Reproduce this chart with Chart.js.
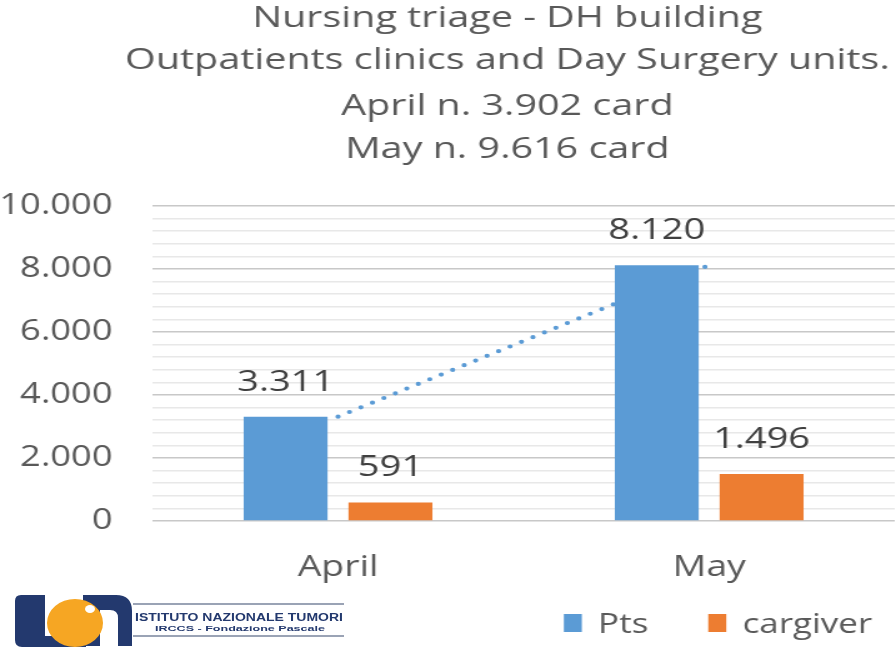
<!DOCTYPE html>
<html>
<head>
<meta charset="utf-8">
<script src="https://cdn.jsdelivr.net/npm/chart.js@4.4.1/dist/chart.umd.min.js"></script>
<style>
    html, body { margin: 0; padding: 0; background: #fff; }
    #wrap { position: relative; width: 896px; height: 651px; overflow: hidden; }
    /* the source picture is stretched sideways, so the canvas is too */
    #chart { display: block; width: 896px; height: 651px; }
    #logo { position: absolute; left: 0; top: 580px; }
</style>
</head>
<body>
<div id="wrap">
    <canvas id="chart" width="717" height="651" style="width:896px;height:651px"></canvas>
    <svg id="logo" width="360" height="71" viewBox="0 580 360 71">
        <path d="M15,640 L15,601 Q15,595 21,595 L45,595 L45,636 L86,636 L86,647 L22,647 Q15,647 15,640 Z" fill="#23396e"/>
        <path d="M83,646 L83,595 L116,595 Q132,595 132,611 L132,646 L118,646 L118,618 Q118,610 110,610 L100,610 L100,646 Z" fill="#23396e"/>
        <ellipse cx="75" cy="623" rx="28" ry="24" fill="#f6a623"/>
        <ellipse cx="90" cy="609" rx="5" ry="4" fill="#fff"/>
        <line x1="133" y1="604" x2="344" y2="604" stroke="#9aa3b5" stroke-width="2"/>
        <line x1="133" y1="636" x2="344" y2="636" stroke="#9aa3b5" stroke-width="2"/>
        <text x="135" y="621" textLength="208" lengthAdjust="spacingAndGlyphs" font-family="Liberation Sans" font-weight="bold" font-size="10" fill="#23396e">ISTITUTO NAZIONALE  TUMORI</text>
        <text x="155" y="631" textLength="170" lengthAdjust="spacingAndGlyphs" font-family="Liberation Sans" font-weight="bold" font-size="8" fill="#23396e">IRCCS - Fondazione Pascale</text>
    </svg>
</div>
<script>
// Chart data
const titleLines = ['Nursing triage - DH building', 'Outpatients clinics and Day Surgery units.', 'April n. 3.902 card', 'May n. 9.616 card'];
const months = ['April', 'May'];
const seriesNames = ['Pts', 'cargiver'];
const ptsValues = [3311, 8120];
const caregiverValues = [591, 1496];
const yTickLabels = [0, 2000, 4000, 6000, 8000, 10000];

const FONT = 'Open Sans';
const GREY = '#595959';

// Italian style thousands separator: 10000 -> 10.000
function fmt(v) {
    return String(v).replace(/\B(?=(\d{3})+(?!\d))/g, '.');
}

// draw a text a little wider than the font gives
function wideText(ctx, text, x, y, sx) {
    ctx.save();
    ctx.translate(x, y);
    ctx.scale(sx, 1);
    ctx.fillText(text, 0, 0);
    ctx.restore();
}

// Title, four centred lines
const titlePlugin = {
    id: 'titleLines',
    afterDraw(chart) {
        const ctx = chart.ctx;
        ctx.save();
        ctx.font = '29px "' + FONT + '"';
        ctx.fillStyle = GREY;
        ctx.textAlign = 'center';
        ctx.textBaseline = 'alphabetic';
        const baselines = [27, 69, 115, 158];
        titleLines.forEach((line, i) => wideText(ctx, line, 406, baselines[i], 1.09));
        ctx.restore();
    }
};

// Value labels above the bars
const valueLabels = {
    id: 'valueLabels',
    afterDatasetsDraw(chart) {
        const ctx = chart.ctx;
        ctx.save();
        ctx.font = '29px "' + FONT + '"';
        ctx.fillStyle = '#404040';
        ctx.textAlign = 'center';
        ctx.textBaseline = 'alphabetic';
        chart.data.datasets.forEach((ds, i) => {
            if (ds.type === 'line') return;
            chart.getDatasetMeta(i).data.forEach((bar, j) => {
                wideText(ctx, fmt(ds.data[j]), bar.x, bar.y - 26, 1.05);
            });
        });
        ctx.restore();
    }
};

// Legend in the bottom right corner
const legendPlugin = {
    id: 'cornerLegend',
    afterDraw(chart) {
        const ctx = chart.ctx;
        ctx.save();
        ctx.font = '28px "' + FONT + '"';
        ctx.textBaseline = 'alphabetic';
        ctx.textAlign = 'left';
        const items = chart.data.datasets.filter(ds => ds.type !== 'line');
        const box = 14.4, gap = 13, spacing = 48;
        let total = 0;
        items.forEach((ds, i) => {
            total += box + gap + ctx.measureText(ds.label).width + (i > 0 ? spacing : 0);
        });
        let x = 698 - total;
        items.forEach(ds => {
            ctx.fillStyle = ds.backgroundColor;
            ctx.fillRect(x, 614, box, 18);
            ctx.fillStyle = GREY;
            ctx.fillText(ds.label, x + box + gap, 633);
            x += box + gap + ctx.measureText(ds.label).width + spacing;
        });
        ctx.restore();
    }
};

new Chart(document.getElementById('chart'), {
    type: 'bar',
    data: {
        labels: months,
        datasets: [
            {
                label: seriesNames[0],
                data: ptsValues,
                backgroundColor: '#5b9bd5',
                categoryPercentage: 0.565,
                barPercentage: 0.8,
                order: 1
            },
            {
                label: seriesNames[1],
                data: caregiverValues,
                backgroundColor: '#ed7d31',
                categoryPercentage: 0.565,
                barPercentage: 0.8,
                order: 1
            },
            {
                // linear trend of Pts, dotted
                type: 'line',
                label: 'trend',
                data: ptsValues,
                borderColor: '#5b9bd5',
                borderWidth: 4.2,
                borderDash: [0, 10.3],
                borderCapStyle: 'round',
                pointRadius: 0,
                fill: false,
                order: 3
            }
        ]
    },
    options: {
        responsive: false,
        animation: false,
        devicePixelRatio: 1,
        layout: { padding: { top: 206, right: 1, left: 0, bottom: 0 } },
        plugins: {
            legend: { display: false },
            title: { display: false },
            tooltip: { enabled: false }
        },
        scales: {
            x: {
                grid: { display: false },
                border: { display: false },
                ticks: { color: GREY, font: { family: FONT, size: 30 }, padding: 20 },
                afterFit: scale => { scale.height = 130; }
            },
            y: {
                min: 0,
                max: 10000,
                border: { display: false },
                grid: {
                    drawTicks: false,
                    lineWidth: 1.5,
                    color: ctx => yTickLabels.includes(ctx.tick.value) ? '#c8c8c8' : '#e8e8e8'
                },
                ticks: {
                    stepSize: 400,
                    autoSkip: false,
                    padding: 32,
                    color: GREY,
                    font: { family: FONT, size: 29 },
                    callback: v => yTickLabels.includes(v) ? fmt(v) : ''
                },
                afterFit: scale => { scale.width = 122; }
            }
        }
    },
    plugins: [titlePlugin, valueLabels, legendPlugin]
});
</script>
</body>
</html>
